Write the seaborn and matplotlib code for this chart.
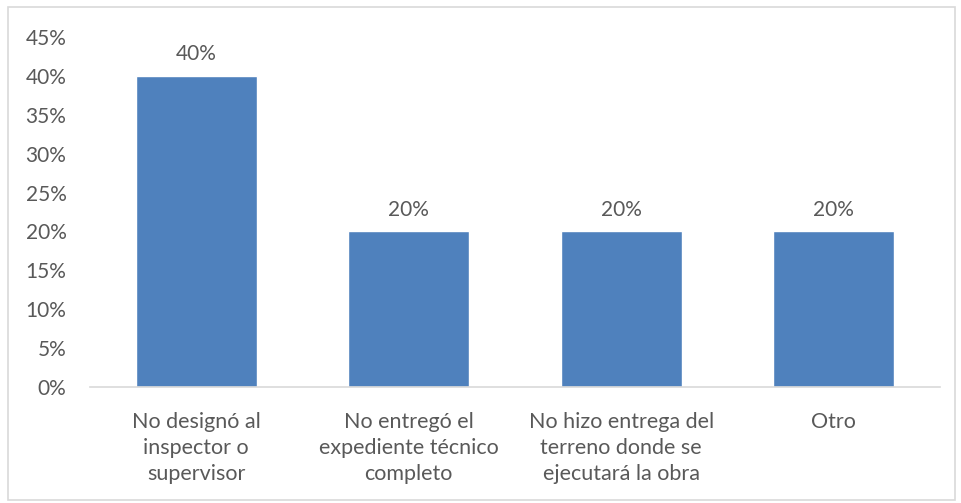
import matplotlib
matplotlib.use("Agg")
import matplotlib.pyplot as plt
from matplotlib.patches import Rectangle
import seaborn as sns
import pandas as pd

categories = [
    "No designó al\ninspector o\nsupervisor",
    "No entregó el\nexpediente técnico\ncompleto",
    "No hizo entrega del\nterreno donde se\nejecutará la obra",
    "Otro",
]
values = [0.40, 0.20, 0.20, 0.20]
yticks = [0.00, 0.05, 0.10, 0.15, 0.20, 0.25, 0.30, 0.35, 0.40, 0.45]

df = pd.DataFrame({"motivo": categories, "pct": values})

sns.set_theme(style="white")
plt.rcParams["font.family"] = ["Lato", "DejaVu Sans"]

text_color = "#595959"
bar_color = "#4F81BD"

fig = plt.figure(figsize=(9.62, 5.03), dpi=100)
ax = fig.add_axes([90 / 962, 1 - 387 / 503, 850 / 962, 350 / 503])

sns.barplot(data=df, x="motivo", y="pct", color=bar_color, width=0.57,
            saturation=1, ax=ax)

ax.set_xlim(-0.5, 3.5)
ax.set_ylim(0, 0.45)
ax.set_yticks(yticks)
ax.set_yticklabels([f"{int(round(v * 100))}%" for v in yticks])
ax.set_xlabel("")
ax.set_ylabel("")

for i, v in enumerate(values):
    ax.text(i, v + 0.015, f"{int(round(v * 100))}%", ha="center", va="bottom",
            fontsize=15, color=text_color)

for s in ["top", "right", "left"]:
    ax.spines[s].set_visible(False)
ax.spines["bottom"].set_color("#D9D9D9")
ax.spines["bottom"].set_linewidth(1.2)

ax.tick_params(axis="y", length=0, pad=17, labelsize=15, labelcolor=text_color)
ax.tick_params(axis="x", length=0, pad=18, labelsize=15.5, labelcolor=text_color)
for lbl in ax.get_xticklabels():
    lbl.set_linespacing(1.38)
    lbl.set_verticalalignment("top")

fig.patches.append(Rectangle((8 / 962, 3 / 503), 947 / 962, 493 / 503,
                             transform=fig.transFigure, fill=False,
                             edgecolor="#D9D9D9", linewidth=1.2))

fig.savefig("out.png", dpi=100)
